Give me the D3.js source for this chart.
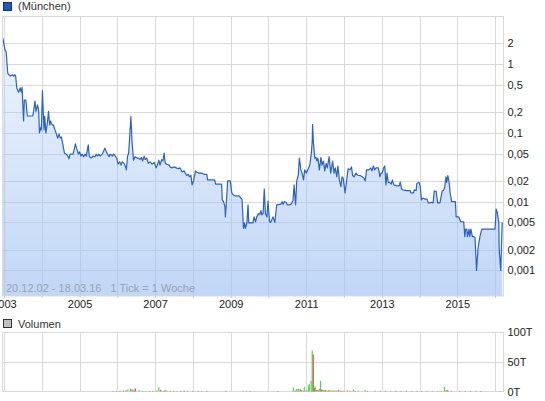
<!DOCTYPE html>
<html><head><meta charset="utf-8">
<script src="https://cdn.jsdelivr.net/npm/d3@7"></script>
<style>
body{margin:0;background:#fff;}
text{font-family:Arial,"Liberation Sans",sans-serif;}
</style>
</head><body>
<svg id="chart" width="545" height="401"></svg>
<script>
// ---- data (decimal years / prices in EUR) ----
const priceDates = [
2002.97,2003.03,2003.06,2003.10,2003.13,2003.17,2003.22,2003.26,2003.29,2003.31,
2003.34,2003.39,2003.43,2003.46,2003.48,2003.52,2003.54,2003.58,2003.62,2003.76,
2003.78,2003.82,2003.85,2003.89,2003.92,2003.94,2003.98,2003.99,2004.02,2004.06,
2004.08,2004.11,2004.15,2004.18,2004.21,2004.23,2004.28,2004.31,2004.35,2004.38,
2004.42,2004.46,2004.49,2004.52,2004.56,2004.60,2004.65,2004.69,2004.72,2004.75,
2004.83,2004.86,2004.89,2004.92,2004.97,2005.00,2005.04,2005.07,2005.11,2005.14,
2005.18,2005.23,2005.26,2005.31,2005.35,2005.41,2005.44,2005.48,2005.51,2005.55,
2005.60,2005.63,2005.67,2005.71,2005.74,2005.78,2005.81,2005.87,2005.90,2005.95,
2005.99,2006.02,2006.06,2006.10,2006.13,2006.18,2006.22,2006.24,2006.27,2006.30,
2006.32,2006.36,2006.39,2006.43,2006.47,2006.52,2006.56,2006.60,2006.64,2006.67,
2006.71,2006.74,2006.78,2006.82,2006.87,2006.92,2006.98,2007.03,2007.06,2007.10,
2007.13,2007.18,2007.21,2007.24,2007.27,2007.31,2007.37,2007.40,2007.45,2007.51,
2007.56,2007.61,2007.66,2007.72,2007.77,2007.80,2007.84,2007.88,2007.91,2007.95,
2007.98,2008.02,2008.07,2008.10,2008.16,2008.23,2008.30,2008.37,2008.39,2008.58,
2008.60,2008.76,2008.78,2008.81,2008.85,2008.86,2008.88,2008.92,2008.99,2009.03,
2009.07,2009.13,2009.22,2009.27,2009.30,2009.34,2009.37,2009.39,2009.43,2009.46,
2009.48,2009.59,2009.62,2009.66,2009.69,2009.74,2009.77,2009.80,2009.83,2009.86,
2009.89,2009.92,2009.96,2009.99,2010.03,2010.06,2010.12,2010.17,2010.22,2010.30,
2010.33,2010.36,2010.39,2010.42,2010.47,2010.50,2010.56,2010.60,2010.65,2010.68,
2010.72,2010.75,2010.79,2010.82,2010.86,2010.89,2010.93,2010.96,2011.00,2011.03,
2011.07,2011.10,2011.12,2011.14,2011.16,2011.17,2011.19,2011.23,2011.26,2011.28,
2011.31,2011.35,2011.39,2011.42,2011.46,2011.49,2011.53,2011.56,2011.61,2011.65,
2011.70,2011.74,2011.77,2011.81,2011.84,2011.88,2011.92,2011.95,2011.98,2012.03,
2012.07,2012.11,2012.16,2012.20,2012.23,2012.27,2012.32,2012.37,2012.43,2012.48,
2012.53,2012.56,2012.60,2012.66,2012.71,2012.74,2012.78,2012.81,2012.85,2012.91,
2012.95,2012.98,2013.01,2013.05,2013.08,2013.11,2013.14,2013.17,2013.21,2013.25,
2013.28,2013.32,2013.40,2013.46,2013.49,2013.53,2013.56,2013.67,2013.75,2013.77,
2013.84,2013.86,2013.91,2013.93,2013.99,2014.02,2014.05,2014.09,2014.14,2014.20,
2014.23,2014.28,2014.31,2014.36,2014.39,2014.44,2014.48,2014.54,2014.56,2014.60,
2014.64,2014.67,2014.70,2014.72,2014.75,2014.77,2014.79,2014.81,2014.85,2014.95,
2014.97,2015.04,2015.09,2015.17,2015.20,2015.22,2015.25,2015.27,2015.31,2015.33,
2015.36,2015.40,2015.44,2015.47,2015.51,2015.55,2015.60,2015.65,2016.00,2016.03,
2016.06,2016.10,2016.11,2016.15,2016.19
];
const priceValues = [
2.4,1.6,1.5,0.74,0.70,0.67,0.70,0.67,0.70,0.67,
0.45,0.39,0.45,0.39,0.46,0.149,0.30,0.30,0.176,0.176,
0.195,0.29,0.205,0.255,0.21,0.100,0.122,0.110,0.41,0.110,
0.176,0.100,0.139,0.205,0.130,0.149,0.130,0.130,0.110,0.100,
0.084,0.096,0.084,0.087,0.067,0.051,0.049,0.046,0.042,0.049,
0.049,0.058,0.069,0.060,0.049,0.053,0.046,0.049,0.045,0.049,
0.046,0.067,0.045,0.043,0.046,0.045,0.049,0.046,0.049,0.046,
0.049,0.053,0.060,0.053,0.049,0.045,0.049,0.046,0.049,0.046,
0.042,0.035,0.038,0.034,0.038,0.036,0.032,0.029,0.045,0.051,
0.074,0.172,0.074,0.040,0.045,0.043,0.043,0.041,0.044,0.039,
0.046,0.041,0.043,0.036,0.038,0.035,0.037,0.031,0.034,0.040,
0.034,0.041,0.039,0.051,0.036,0.035,0.034,0.032,0.031,0.032,
0.031,0.030,0.031,0.027,0.028,0.026,0.024,0.025,0.023,0.024,
0.0175,0.020,0.028,0.027,0.026,0.026,0.025,0.025,0.0207,0.0207,
0.018,0.018,0.0106,0.0100,0.0085,0.0060,0.0085,0.020,0.020,0.0134,
0.0125,0.0121,0.0121,0.0113,0.0109,0.0041,0.0049,0.0041,0.0049,0.0090,
0.0049,0.0049,0.0060,0.0051,0.0060,0.0067,0.0065,0.0074,0.0064,0.0068,
0.0153,0.0067,0.0060,0.0102,0.0051,0.0050,0.0060,0.0050,0.0090,0.0091,
0.0092,0.0100,0.0092,0.0100,0.0098,0.0090,0.0090,0.0092,0.0102,0.0175,
0.0090,0.020,0.024,0.043,0.029,0.026,0.0207,0.029,0.026,0.028,
0.031,0.035,0.043,0.053,0.075,0.133,0.074,0.043,0.044,0.039,
0.043,0.029,0.044,0.034,0.039,0.028,0.036,0.031,0.045,0.026,
0.039,0.026,0.031,0.023,0.033,0.0207,0.0165,0.023,0.022,0.0134,
0.020,0.030,0.029,0.032,0.024,0.023,0.026,0.024,0.024,0.023,
0.022,0.020,0.029,0.029,0.031,0.028,0.033,0.029,0.031,0.031,
0.023,0.026,0.026,0.031,0.033,0.0175,0.026,0.019,0.019,0.018,
0.0207,0.0175,0.0170,0.0170,0.0193,0.0150,0.0148,0.0145,0.0145,0.0134,
0.0134,0.0148,0.0145,0.0185,0.019,0.0165,0.0106,0.0113,0.0109,0.0109,
0.0096,0.0096,0.0098,0.0096,0.0143,0.0140,0.0096,0.0096,0.0109,0.0143,
0.0148,0.0164,0.023,0.019,0.024,0.021,0.018,0.0134,0.0100,0.0100,
0.0060,0.0060,0.0051,0.0051,0.0031,0.0040,0.0040,0.0031,0.0040,0.0031,
0.0040,0.0031,0.0031,0.0030,0.0010,0.0021,0.0031,0.0040,0.0040,0.0078,
0.0069,0.0049,0.0020,0.0010,0.0050
];
// volume in thousands (T), up = 1 green, 0 red
const volDates = [
2005.89,2005.98,2006.07,2006.16,2006.23,2006.28,2006.35,2006.39,2006.44,2006.48,
2006.58,2006.67,2006.76,2006.85,2006.94,2007.04,2007.10,2007.15,2007.22,2007.26,
2007.31,2007.40,2007.49,2007.58,2007.68,2007.77,2007.86,2008.00,2008.14,2008.23,
2008.37,2008.87,2009.33,2009.42,2009.52,2010.25,2010.66,2010.71,2010.75,2010.79,
2010.84,2010.88,2010.93,2010.95,2011.00,2011.06,2011.08,2011.13,2011.16,2011.19,
2011.22,2011.24,2011.28,2011.31,2011.35,2011.38,2011.40,2011.44,2011.47,2011.51,
2011.55,2011.60,2011.63,2011.69,2011.74,2011.79,2011.85,2011.90,2011.95,2012.00,
2012.09,2012.16,2012.25,2012.30,2012.39,2012.56,2012.62,2012.82,2012.96,2013.10,
2013.24,2013.37,2013.51,2013.65,2013.79,2013.93,2014.06,2014.20,2014.34,2014.48,
2014.57,2014.66,2014.71,2014.75,2014.84,2015.07,2015.21,2015.35,2015.49,2015.62,
2016.13
];
const volValues = [
0.8,0.8,1.2,1.8,2.3,3.5,5,3.5,3,5.2,
2.3,1,1,0.8,1,1.2,7,3,1.2,2.3,
1.8,1,1.2,1,1.2,1.8,1.2,1.2,1.2,1.2,
1.2,1.2,1.2,1.2,1,1,6.8,1.7,4.5,4.5,
4.5,2.3,1.1,8,1.7,10,12.4,18,69,62,
5.6,8.5,2.8,2.3,4.5,18,3.4,2.8,2.8,2.3,
2.3,2.3,2.3,1.7,2.3,1.7,2.8,1.7,1.1,1.1,
2.3,1.1,3.4,1.1,1.7,2.3,1.1,1.7,1.2,1.2,
1.2,1.2,1,1.2,1,1,1.2,1,1.2,1,
1.2,8,2.3,2.3,1.2,1,1,1,1,0.8,
1
];
const volUp = [
0,0,0,0,1,1,1,0,0,0,
1,0,1,0,0,0,1,0,1,0,
1,0,0,1,0,0,0,0,0,1,
0,0,1,1,0,0,1,0,1,1,
0,0,1,1,0,1,1,1,1,0,
0,1,0,0,1,1,0,0,1,0,
1,0,1,0,1,0,0,0,0,0,
1,0,1,0,1,1,0,1,0,0,
1,0,0,0,0,0,1,0,1,0,
1,1,0,0,0,0,0,0,0,0,
0
];
const yTicks = [0.001,0.002,0.005,0.01,0.02,0.05,0.1,0.2,0.5,1,2];
const yTickLabels = ["0,001","0,002","0,005","0,01","0,02","0,05","0,1","0,2","0,5","1","2"];
const gridYears = [2003,2004,2005,2006,2007,2008,2009,2010,2011,2012,2013,2014,2015,2016];
const labelYears = [2003,2005,2007,2009,2011,2013,2015];
const volTicks = [0,50,100];
const volTickLabels = ["0T","50T","100T"];
const seriesName = "(München)";
const volName = "Volumen";
const rangeNote = "20.12.02 - 18.03.16   1 Tick = 1 Woche";

// ---- helpers ----
function toDate(y){
  const yr = Math.floor(y);
  const start = Date.UTC(yr,0,1), end = Date.UTC(yr+1,0,1);
  return new Date(start + (y-yr)*(end-start));
}
const price = priceDates.map((d,i)=>({date:toDate(d), v:priceValues[i]}));
const vol = volDates.map((d,i)=>({date:toDate(d), v:volValues[i], up:volUp[i]}));

const svg = d3.select("#chart");
const L = 2.5, R = 503.5, T = 16, B = 296;
const VT = 332, VB = 391.5;

const x = d3.scaleUtc()
  .domain([new Date(Date.UTC(2002,11,20)), new Date(Date.UTC(2016,2,18))])
  .range([2.7, 503]);
const y = d3.scaleLog().domain([0.000425, 5]).range([B, T]);
const yv = d3.scaleLinear().domain([0,100]).range([VB, VT]);

const gridColor = "#d9d9d9";

// defs gradient
const defs = svg.append("defs");
const grad = defs.append("linearGradient").attr("id","fillGrad")
  .attr("gradientUnits","userSpaceOnUse").attr("x1",0).attr("y1",T).attr("x2",0).attr("y2",B);
grad.append("stop").attr("offset","0%").attr("stop-color","rgb(161,194,242)").attr("stop-opacity",0.14);
grad.append("stop").attr("offset","100%").attr("stop-color","rgb(161,194,242)").attr("stop-opacity",0.66);
defs.append("clipPath").attr("id","clipMain").append("rect")
  .attr("x",L).attr("y",T).attr("width",R-L).attr("height",B-T);

// ---- main grid ----
const g = svg.append("g");
g.selectAll(".hg").data(yTicks).enter().append("line")
  .attr("x1",L).attr("x2",R)
  .attr("y1",d=>Math.round(y(d))+0.5).attr("y2",d=>Math.round(y(d))+0.5)
  .attr("stroke",gridColor);
g.selectAll(".vg").data(gridYears).enter().append("line")
  .attr("x1",d=>Math.round(x(toDate(d)))+0.5).attr("x2",d=>Math.round(x(toDate(d)))+0.5)
  .attr("y1",T).attr("y2",B)
  .attr("stroke",gridColor);

// area & line
const area = d3.area().x(d=>x(d.date)).y0(B).y1(d=>y(d.v));
const line = d3.line().x(d=>x(d.date)).y(d=>y(d.v));
const pg = svg.append("g").attr("clip-path","url(#clipMain)");
pg.append("path").datum(price).attr("d",area).attr("fill","url(#fillGrad)");
pg.append("path").datum(price).attr("d",line).attr("fill","none")
  .attr("stroke","#2a62c2").attr("stroke-width",1.2).attr("stroke-linejoin","round");

// frame
svg.append("rect").attr("x",L).attr("y",T+0.5).attr("width",R-L).attr("height",B-T-0.5)
  .attr("fill","none").attr("stroke",gridColor);

// y axis labels
const yAxis = d3.axisRight(y).tickValues(yTicks)
  .tickFormat((d,i)=>yTickLabels[i]).tickSize(0).tickPadding(4);
const ya = svg.append("g").attr("transform",`translate(${R},0)`).call(yAxis);
ya.select(".domain").remove();
ya.selectAll("text").attr("fill","#222").style("font-size","11px")
  .style("font-family","Arial, 'Liberation Sans', sans-serif");

// x axis
const xAxis = d3.axisBottom(x).tickValues(gridYears.map(toDate))
  .tickFormat(d=>labelYears.includes(d.getUTCFullYear()) ? d.getUTCFullYear() : "")
  .tickSize(2).tickPadding(2);
const xa = svg.append("g").attr("transform",`translate(0,${B})`).call(xAxis);
xa.select(".domain").remove();
xa.selectAll("line").attr("stroke","#c8c8c8");
xa.selectAll("text").attr("fill","#222").style("font-size","11px")
  .style("font-family","Arial, 'Liberation Sans', sans-serif");

// range note
svg.append("text").attr("x",6).attr("y",292).text(rangeNote)
  .style("white-space","pre").attr("fill","#9ba1ad").style("font-size","11px");

// legend
svg.append("rect").attr("x",3.5).attr("y",2.5).attr("width",8).attr("height",8)
  .attr("fill","#1f5bbf").attr("stroke","#1b2f5a");
svg.append("text").attr("x",18).attr("y",10).text(seriesName)
  .attr("fill","#333").style("font-size","11px");

// ---- volume panel ----
svg.append("rect").attr("x",3.5).attr("y",319.5).attr("width",8).attr("height",8)
  .attr("fill","#c0c0c0").attr("stroke","#333");
svg.append("text").attr("x",18).attr("y",327.5).text(volName)
  .attr("fill","#333").style("font-size","11px");

const vg = svg.append("g");
vg.selectAll(".vhg").data([50]).enter().append("line")
  .attr("x1",L).attr("x2",R)
  .attr("y1",d=>Math.round(yv(d))+0.5).attr("y2",d=>Math.round(yv(d))+0.5)
  .attr("stroke",gridColor);
vg.selectAll(".vvg").data(gridYears).enter().append("line")
  .attr("x1",d=>Math.round(x(toDate(d)))+0.5).attr("x2",d=>Math.round(x(toDate(d)))+0.5)
  .attr("y1",VT).attr("y2",VB)
  .attr("stroke",gridColor);
svg.append("rect").attr("x",L).attr("y",VT+0.5).attr("width",R-L).attr("height",VB-VT-0.5)
  .attr("fill","none").attr("stroke",gridColor);

svg.append("g").selectAll("rect").data(vol).enter().append("rect")
  .attr("x",d=>x(d.date)-0.6).attr("width",1.2)
  .attr("y",d=>yv(d.v)).attr("height",d=>VB-yv(d.v))
  .attr("fill",d=>d.up ? "#52d352" : "#e05a5a");

const vAxis = d3.axisRight(yv).tickValues(volTicks)
  .tickFormat((d,i)=>volTickLabels[i]).tickSize(0).tickPadding(4);
const va = svg.append("g").attr("transform",`translate(${R},0)`).call(vAxis);
va.select(".domain").remove();
va.selectAll("text").attr("fill","#222").style("font-size","11px")
  .style("font-family","Arial, 'Liberation Sans', sans-serif");
</script>
</body></html>
